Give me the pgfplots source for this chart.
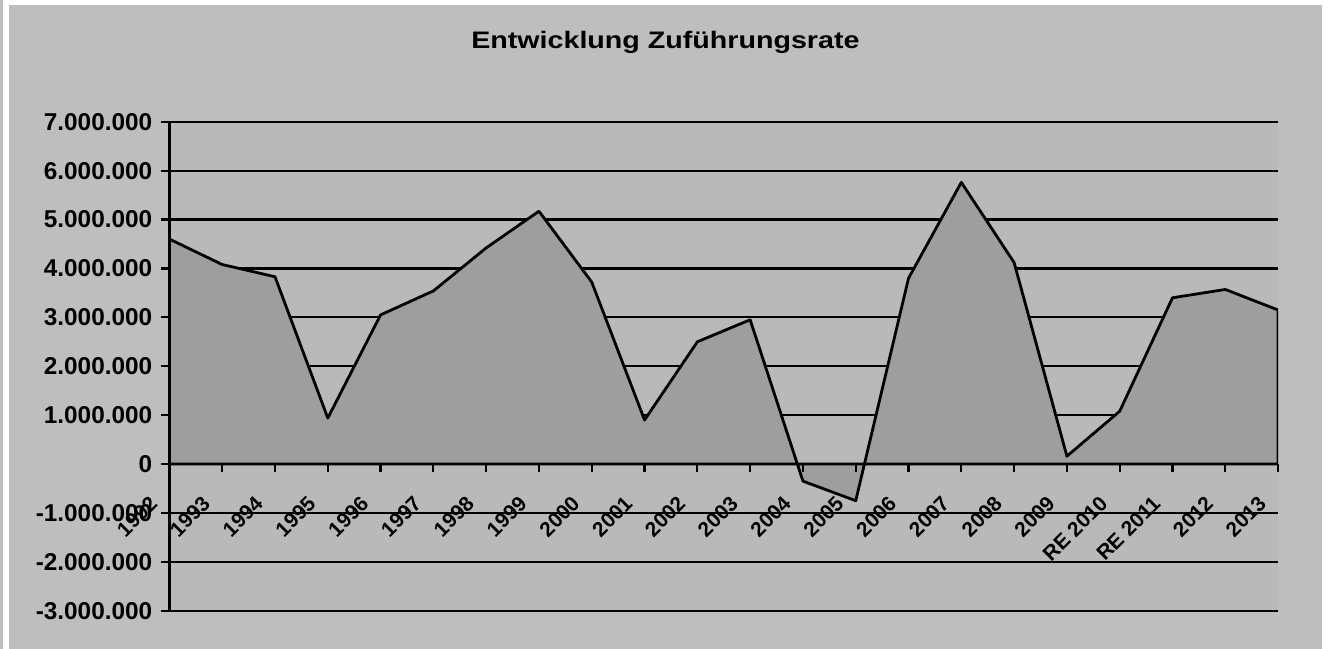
\documentclass[border=0pt]{standalone}
\usepackage{fontspec}
\setmainfont{Liberation Sans}
\usepackage{xcolor}
\usepackage{pgfplots}
\pgfplotsset{compat=1.18}

\definecolor{chartbg}{RGB}{190,190,190}
\definecolor{plotbg}{RGB}{185,185,185}
\definecolor{areagray}{RGB}{158,158,158}

% grid below the area, axis lines and ticks above it
\pgfplotsset{
  layers/gridbelow/.define layer set={
    axis background,axis grid,pre main,main,axis ticks,axis lines,axis tick labels,axis descriptions,axis foreground
  }{
    grid style={/pgfplots/on layer=axis grid},
    tick style={/pgfplots/on layer=axis ticks},
    axis line style={/pgfplots/on layer=axis lines},
    label style={/pgfplots/on layer=axis descriptions},
    title style={/pgfplots/on layer=axis descriptions},
    ticklabel style={/pgfplots/on layer=axis tick labels},
    axis background@ style={/pgfplots/on layer=axis background},
  },
}

\begin{document}
\pagecolor{chartbg}
\begin{tikzpicture}
\path (0,0) rectangle (1328bp,650bp);
% white scan margins
\fill[white] (0,645bp) rectangle (1328bp,650bp);
\fill[white] (1322bp,0) rectangle (1328bp,650bp);
\fill[white] (0,0) rectangle (6bp,650bp);
\node[anchor=base,xscale=1.2,transform shape,font=\bfseries\fontsize{24}{24}\selectfont] at (664bp,601bp) {Entwicklung Zuführungsrate};

\begin{axis}[
    set layers=gridbelow,
    at={(167bp,38bp)}, anchor=south west,
    scale only axis,
    width=1111bp, height=490bp,
    xmin=0, xmax=21,
    ymin=-3000000, ymax=7000000,
    axis x line=middle,
    axis y line=left,
    axis line style={-, line width=2.2bp},
    axis background/.style={fill=plotbg},
    hide obscured x ticks=false,
    hide obscured y ticks=false,
    scaled y ticks=false,
    xtick={0,...,21},
    xticklabels={1992,1993,1994,1995,1996,1997,1998,1999,2000,2001,2002,2003,2004,2005,2006,2007,2008,2009,RE 2010,RE 2011,2012,2013},
    ytick={-3000000,-2000000,-1000000,0,1000000,2000000,3000000,4000000,5000000,6000000,7000000},
    yticklabels={-3.000.000,-2.000.000,-1.000.000,0,1.000.000,2.000.000,3.000.000,4.000.000,5.000.000,6.000.000,7.000.000},
    ymajorgrids=true,
    grid style={black, line width=2.2bp},
    tick align=outside,
    major tick length=8bp,
    tick style={black, line width=2.2bp},
    yticklabel style={font=\bfseries\fontsize{24.5}{24.5}\selectfont, inner sep=0pt, xshift=-9bp},
    xticklabel style={font=\bfseries\fontsize{21}{21}\selectfont, rotate=45, anchor=north east, inner sep=0pt, xshift=-31bp, yshift=-1bp},
]
\addplot[fill=areagray, draw=black, line width=2.8bp, line join=round] coordinates {
    (0,4600000) (1,4080000) (2,3830000) (3,940000) (4,3050000) (5,3540000)
    (6,4420000) (7,5170000) (8,3720000) (9,900000) (10,2500000) (11,2950000)
    (12,-350000) (13,-750000) (14,3800000) (15,5760000) (16,4120000) (17,160000)
    (18,1080000) (19,3400000) (20,3570000) (21,3150000)
} \closedcycle;
\end{axis}
\end{tikzpicture}
\end{document}
